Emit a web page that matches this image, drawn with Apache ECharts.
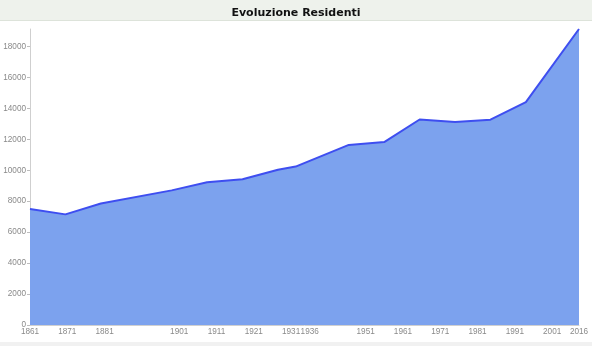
<!DOCTYPE html>
<html>
<head>
<meta charset="utf-8">
<script src="https://cdn.jsdelivr.net/npm/echarts@6/dist/echarts.min.js"></script>
<style>
  html, body { margin: 0; padding: 0; background: #ffffff; }
  #chart { width: 592px; height: 346px; }
</style>
</head>
<body>
<div id="chart"></div>
<script>
// Census years and resident counts
const years = [1861, 1871, 1881, 1901, 1911, 1921, 1931, 1936, 1951, 1961, 1971, 1981, 1991, 2001, 2016];
const residents = [7500, 7150, 7850, 8700, 9230, 9420, 10030, 10240, 11640, 11820, 13280, 13120, 13270, 14400, 19130];
// Labels shown under the horizontal axis
const yearLabels = [1861, 1871, 1881, 1901, 1911, 1921, 1931, 1936, 1951, 1961, 1971, 1981, 1991, 2001];
const lastYearLabel = [2016];
// Vertical axis ticks
const yTicks = [0, 2000, 4000, 6000, 8000, 10000, 12000, 14000, 16000, 18000];

const chart = echarts.init(document.getElementById('chart'), null, { renderer: 'canvas' });

const labelFont = {
  fontFamily: 'Liberation Sans, Arial, sans-serif',
  fontSize: 8.2,
  color: '#8a8a8a'
};
const plain = v => String(v);

chart.setOption({
  animation: false,
  backgroundColor: '#ffffff',
  title: {
    text: 'Evoluzione Residenti',
    left: 'center',
    top: 3,
    textStyle: {
      fontFamily: 'DejaVu Sans, Verdana, sans-serif',
      fontSize: 11,
      fontWeight: 'bold',
      color: '#111111'
    }
  },
  graphic: [
    { type: 'rect', z: -10, shape: { x: 0, y: 0, width: 592, height: 20 }, style: { fill: '#eef2ec' } },
    { type: 'rect', z: -10, shape: { x: 0, y: 20, width: 592, height: 1 }, style: { fill: '#dde3da' } },
    { type: 'rect', z: -10, shape: { x: 0, y: 342, width: 592, height: 4 }, style: { fill: '#f1f1f1' } }
  ],
  grid: { left: 30, right: 13, top: 29, bottom: 21, containLabel: false, outerBoundsMode: 'none' },
  xAxis: [
    {
      type: 'value',
      min: years[0],
      max: years[years.length - 1],
      position: 'bottom',
      axisLine: { show: true, lineStyle: { color: '#d0d0d0', width: 1 } },
      axisTick: { show: false },
      splitLine: { show: false },
      axisLabel: Object.assign({ customValues: lastYearLabel, margin: 3, formatter: plain }, labelFont)
    },
    {
      type: 'value',
      min: 1861,
      max: 2008.2,
      position: 'bottom',
      axisLine: { show: false },
      axisTick: { show: false },
      splitLine: { show: false },
      axisLabel: Object.assign({ customValues: yearLabels, margin: 3, formatter: plain }, labelFont)
    }
  ],
  yAxis: {
    type: 'value',
    min: 0,
    max: 'dataMax',
    axisLine: { show: true, lineStyle: { color: '#cfcfcf', width: 1 } },
    axisTick: { show: true, customValues: yTicks, length: 3, lineStyle: { color: '#bdbdbd' } },
    splitLine: { show: false },
    axisLabel: Object.assign({ customValues: yTicks, margin: 4, formatter: plain }, labelFont)
  },
  series: [{
    type: 'line',
    xAxisIndex: 0,
    data: years.map((y, i) => [y, residents[i]]),
    symbol: 'none',
    smooth: false,
    lineStyle: { color: '#3e4ef0', width: 2 },
    areaStyle: { color: '#7ca2ee', opacity: 1 }
  }]
});
</script>
</body>
</html>
